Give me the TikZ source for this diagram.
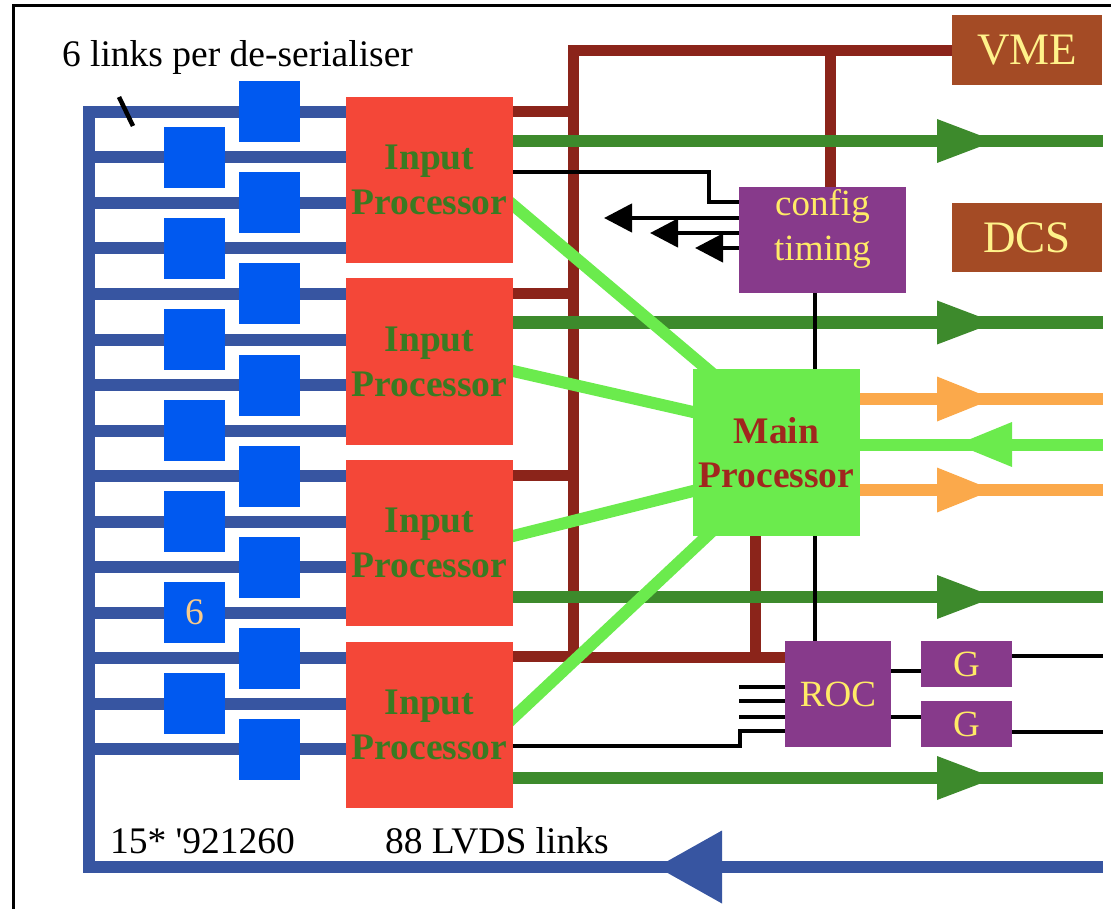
\documentclass[tikz,border=0pt]{standalone}
\usepackage{fontspec}
\setmainfont{Liberation Serif}
\usetikzlibrary{calc,arrows.meta}

\definecolor{cbusblue}{HTML}{3755A1}
\definecolor{cserblue}{HTML}{0059F0}
\definecolor{cipred}{HTML}{F44738}
\definecolor{ciptext}{HTML}{3A7A22}
\definecolor{cbrown}{HTML}{8B241A}
\definecolor{cdgreen}{HTML}{3D8A2C}
\definecolor{clgreen}{HTML}{6BEB4D}
\definecolor{cmptext}{HTML}{A1261E}
\definecolor{corange}{HTML}{FBA94B}
\definecolor{cpurple}{HTML}{873A8B}
\definecolor{cyellow}{HTML}{FFEB66}
\definecolor{csienna}{HTML}{A44B25}
\definecolor{cvmetext}{HTML}{FFF28A}
\definecolor{csix}{HTML}{F8CB8A}

\pgfdeclarelayer{bluew}
\pgfdeclarelayer{brownw}
\pgfdeclarelayer{dgreenw}
\pgfdeclarelayer{blackw}
\pgfdeclarelayer{lgreenw}
\pgfdeclarelayer{orangew}
\pgfsetlayers{bluew,brownw,dgreenw,blackw,lgreenw,orangew,main}

% filled arrowheads sitting on a thick line: colour, base x, y, length, half width
\newcommand\tipright[5]{\fill[#1] (#2,#3-#5) -- (#2+#4,#3) -- (#2,#3+#5) -- cycle;}
\newcommand\tipleft[5]{\fill[#1] (#2,#3-#5) -- (#2-#4,#3) -- (#2,#3+#5) -- cycle;}

\begin{document}
\begin{tikzpicture}[x=1pt,y=-1pt,
  every node/.style={inner sep=0pt, outer sep=0pt},
  txt/.style={font=\fontsize{37.5}{45}\selectfont},
  ipbox/.style={fill=cipred, minimum width=167pt, minimum height=166pt,
    font=\fontsize{37.5}{45}\selectfont\bfseries, text=ciptext, align=center},
  mpbox/.style={fill=clgreen, minimum width=167pt, minimum height=167pt,
    font=\fontsize{37.5}{44}\selectfont\bfseries, text=cmptext, align=center},
  deser/.style={fill=cserblue, minimum size=61pt},
  purpbox/.style={fill=cpurple, text=cyellow, font=\fontsize{37}{45}\selectfont},
  sbox/.style={fill=csienna, text=cvmetext, minimum width=150pt, minimum height=70pt,
    font=\fontsize{45}{50}\selectfont},
  bluebus/.style={line width=12pt, draw=cbusblue},
  brownbus/.style={line width=11pt, draw=cbrown},
  dgreenln/.style={line width=12pt, draw=cdgreen},
  lgreenln/.style={line width=12pt, draw=clgreen},
  orangeln/.style={line width=12pt, draw=corange},
  wire/.style={line width=4.5pt, draw=black},
  wirearrow/.style={wire, -{Triangle[length=28pt,width=28pt]}},
]
\useasboundingbox (0,0) rectangle (1111,909);

% outer frame
\draw[line width=3pt] (13.5,909) -- (13.5,6) -- (1111,6);

% processing boards
\node[ipbox] (ip1) at (429.5,180)   {Input\\Processor};
\node[ipbox] (ip2) at (429.5,361.5) {Input\\Processor};
\node[ipbox] (ip3) at (429.5,543)   {Input\\Processor};
\node[ipbox] (ip4) at (429.5,724.5) {Input\\Processor};
\node[mpbox] (mp) at (776.5,452.5) {Main\\Processor};

\node[purpbox, minimum width=167pt, minimum height=106pt] (cfg) at (822.5,240) {};
\node[purpbox, align=center] (cfgtxt) at ([yshift=11pt]cfg.center) {config\\timing};
\node[purpbox, minimum width=106pt, minimum height=106pt] (roc) at (838,694) {ROC};
\node[purpbox, minimum width=91pt, minimum height=46pt] (g1) at (966.5,664) {G};
\node[purpbox, minimum width=91pt, minimum height=46pt] (g2) at (966.5,724) {G};
\node[sbox] (vme) at (1027,50.5) {VME};
\node[sbox, minimum height=69pt] (dcs) at (1027,237.5) {DCS};

% de-serialisers, alternating columns
\foreach \i in {0,...,14}{
  \pgfmathsetmacro\yy{112+45.5*\i}
  \pgfmathsetmacro\xx{ifthenelse(mod(\i,2)==0,269.5,194.5)}
  \node[deser] (ds\i) at (\xx,\yy) {};
}
\node[txt, text=csix] (six) at (ds11) {6};

% labels
\node[txt, anchor=base west] (lbllinks) at (62,67) {6 links per de-serialiser};
\node[txt, anchor=base west] (lblcount) at (110,853) {15* \textquotesingle 921260};
\node[txt, anchor=base west] (lbllvds) at (385,853) {88 LVDS links};

\coordinate (busTL) at (89,112);
\coordinate (busBL) at (89,867);
\coordinate (busEnd) at (1103,867);
\coordinate (rim) at (1103,0);
\coordinate (bb) at (573,657);
\coordinate (rin) at (739,0);

% input link bus
\begin{pgfonlayer}{bluew}
  \draw[bluebus] (ds0 -| ip1.west) -- (busTL) -- (busBL) -- (busEnd);
  \foreach \i/\k in {1/1,2/1,3/1,4/2,5/2,6/2,7/2,8/3,9/3,10/3,11/3,12/4,13/4,14/4}
    \draw[bluebus] (ds\i -| busTL) -- (ds\i -| ip\k.west);
  \tipleft{cbusblue}{722}{867}{65}{36.5}
  \draw[line width=4.5pt] (119,97) -- (133,126);
\end{pgfonlayer}

% VME backplane bus
\begin{pgfonlayer}{brownw}
  \draw[brownbus] (vme.west) -| (bb) -- (bb -| roc.west);
  \draw[brownbus] ([xshift=7.5pt]cfg.north) -- ([xshift=7.5pt]cfg.north |- vme.west);
  \draw[brownbus] ([xshift=-21.5pt]mp.south) -- ([xshift=-21.5pt]mp.south |- bb);
  \foreach \k in {1,2,3,4}
    \draw[brownbus] ([yshift=68pt]ip\k.east) -- ([yshift=68pt]ip\k.east -| bb);
\end{pgfonlayer}

% output links of the input processors
\begin{pgfonlayer}{dgreenw}
  \foreach \k/\s in {1/39,2/39,3/-54,4/-53.5}
    \draw[dgreenln] ([yshift=\s pt]ip\k.east) -- ([yshift=\s pt]ip\k.east -| rim);
  \tipright{cdgreen}{937}{141}{58}{22}
  \tipright{cdgreen}{937}{322.5}{58}{22}
  \tipright{cdgreen}{937}{597}{58}{22}
  \tipright{cdgreen}{937}{778}{58}{22}
\end{pgfonlayer}

% control and readout wiring
\begin{pgfonlayer}{blackw}
  \coordinate (k1) at (709,172);
  \coordinate (k2) at (709,202);
  \draw[wire] ([yshift=8pt]ip1.east) -- (k1) -- (k2) -- ([yshift=38pt]cfg.west);
  \coordinate (t1) at (604,218);
  \coordinate (t2) at (650,233);
  \coordinate (t3) at (695,248);
  \draw[wirearrow] ([yshift=22pt]cfg.west) -- (t1);
  \draw[wirearrow] ([yshift=7pt]cfg.west) -- (t2);
  \draw[wirearrow] ([yshift=-8pt]cfg.west) -- (t3);
  \draw[wire] ([xshift=-7.5pt]cfg.south) -- ([xshift=-7.5pt]cfg.south |- roc.north);
  \foreach \s in {7,-7,-23}
    \draw[wire] ([yshift=\s pt]roc.west) -- ([yshift=\s pt]roc.west -| rin);
  \coordinate (k3) at (740,746);
  \coordinate (k4) at (740,731);
  \draw[wire] ([yshift=-21.5pt]ip4.east) -- (k3) -- (k4) -- ([yshift=-37pt]roc.west);
  \draw[wire] ([yshift=23pt]roc.east) -- ([yshift=23pt]roc.east -| g1.west);
  \draw[wire] ([yshift=-23pt]roc.east) -- ([yshift=-23pt]roc.east -| g2.west);
  \draw[wire] ([yshift=8pt]g1.east) -- ([yshift=8pt]g1.east -| rim);
  \draw[wire] ([yshift=-8pt]g2.east) -- ([yshift=-8pt]g2.east -| rim);
\end{pgfonlayer}

% links to the main processor
\begin{pgfonlayer}{lgreenw}
  \coordinate (a1) at ([yshift=-25pt]ip1.east);
  \coordinate (b1) at ([xshift=14pt]mp.north west);
  \coordinate (a2) at ([yshift=-9.5pt]ip2.east);
  \coordinate (b2) at ([yshift=40.5pt]mp.west);
  \coordinate (a3) at ([yshift=7pt]ip3.east);
  \coordinate (b3) at ([yshift=-38.5pt]mp.west);
  \coordinate (a4) at ([yshift=6.5pt]ip4.east);
  \coordinate (b4) at ([xshift=14pt]mp.south west);
  \foreach \k in {1,...,4}
    \draw[lgreenln] ($(a\k)!-0.1!(b\k)$) -- ($(b\k)!-0.1!(a\k)$);
  \draw[lgreenln] ([yshift=8pt]mp.east) -- ([yshift=8pt]mp.east -| rim);
  \tipleft{clgreen}{1012}{444.5}{55}{22.5}
\end{pgfonlayer}

% main processor outputs
\begin{pgfonlayer}{orangew}
  \draw[orangeln] ([yshift=53.5pt]mp.east) -- ([yshift=53.5pt]mp.east -| rim);
  \draw[orangeln] ([yshift=-37.5pt]mp.east) -- ([yshift=-37.5pt]mp.east -| rim);
  \tipright{corange}{937}{399}{56}{22.5}
  \tipright{corange}{937}{490}{56}{22.5}
\end{pgfonlayer}
\end{tikzpicture}
\end{document}
